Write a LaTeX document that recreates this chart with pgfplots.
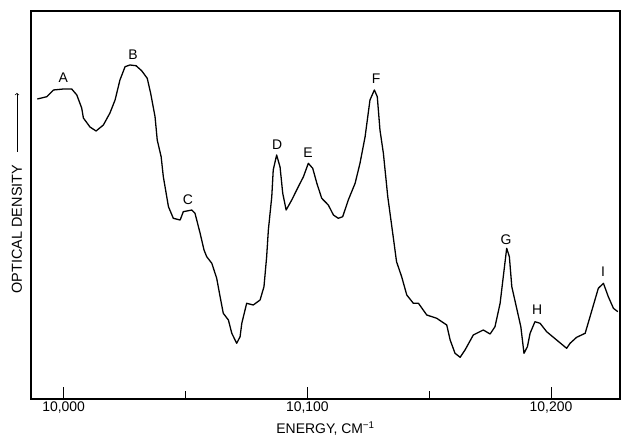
\documentclass[border=0pt]{standalone}
\usepackage{fontspec}
\setmainfont{Liberation Sans}
\usepackage{pgfplots}
\pgfplotsset{compat=1.18}

% absorption trace, y = optical density in arbitrary units
\pgfplotstableread{
E y
9989.2 301
9993.1 303.3
9995.8 310
9999.9 311
10003.3 311
10005.4 305
10007.4 292
10008.1 282
10010.8 273
10013.3 269
10016.3 275
10019.0 287
10021.1 300
10023.1 320
10025.2 333.3
10027.2 335
10029.7 334.3
10032.0 329.3
10034.3 321.7
10035.7 306.7
10037.5 283.3
10038.4 260
10040.0 243.3
10040.9 223.3
10042.3 203.3
10043.0 193.3
10045.0 181.7
10047.8 180
10049.1 188.3
10052.6 190
10053.9 186.7
10056.0 166.7
10057.6 150
10058.7 143.3
10060.8 136.7
10062.8 121.7
10064.2 103.3
10065.5 86.7
10067.6 80
10069.0 66.7
10071.0 56.7
10072.4 63.3
10073.1 76.7
10075.1 96.7
10077.8 95
10080.6 100
10082.2 113.3
10083.3 143.3
10084.0 170
10085.4 203.3
10086.0 230
10087.4 245
10088.8 233
10089.9 206.7
10091.3 190
10093.6 200
10096.3 213.3
10098.4 223.3
10100.4 236.7
10102.2 231.7
10103.9 216.7
10105.9 201.7
10108.6 195
10110.7 185
10112.7 181.7
10114.5 183.3
10116.8 200
10119.6 216.7
10121.6 236.7
10123.7 263.3
10125.7 300
10127.5 310
10128.7 303.3
10129.8 270
10131.2 246.7
10133.0 203.3
10135.3 162
10136.6 138.3
10138.7 123.3
10140.8 105
10143.5 96.7
10145.6 96.7
10149.0 85
10153.1 81.7
10157.2 75
10158.6 60
10160.6 46.7
10162.7 42.7
10164.7 50
10168.1 65
10172.2 70
10175.0 66
10177.0 73.3
10179.1 96.7
10180.4 123.3
10181.8 151.7
10182.9 143.3
10183.9 113.3
10185.9 91.7
10187.6 73.3
10188.9 46.7
10190.3 53.3
10191.4 66.7
10193.4 78.3
10195.5 76.7
10198.2 68.3
10202.3 60
10206.4 51.7
10207.8 56.7
10210.5 62.7
10214.0 66.7
10216.0 83.3
10219.4 111.7
10221.5 116.7
10223.5 103.3
10225.6 91.7
10227.4 88.3
}\spectrum

\begin{document}
\begin{tikzpicture}
\begin{axis}[
  name=ax,
  scale only axis,
  width=589bp, height=388bp,
  xmin=9986.6, xmax=10228.3,
  ymin=1, ymax=389,
  clip=false,
  scaled x ticks=false,
  axis line style={line width=1.4pt},
  xtick={10000,10100,10200},
  xticklabels={{10,000},{10,100},{10,200}},
  minor xtick={10050,10150},
  xtick pos=bottom,
  tick align=inside,
  major tick length=12bp,
  minor tick length=8bp,
  tick style={line width=0.9pt, black},
  ytick=\empty,
  xticklabel style={font=\fontsize{14}{16}\selectfont, yshift=1bp},
  xlabel={ENERGY, CM\textsuperscript{−1}},
  xlabel style={font=\fontsize{14}{16}\selectfont, yshift=-2bp},
]
\addplot[black, line width=1.3pt, line join=round] table[x=E, y=y] {\spectrum};

\begin{scope}[font=\fontsize{14}{16}\selectfont]
\node at (axis cs:9999.8,322) {A};
\node at (axis cs:10028.5,345) {B};
\node at (axis cs:10051.0,200) {C};
\node at (axis cs:10087.6,255) {D};
\node at (axis cs:10100.3,247) {E};
\node at (axis cs:10128.2,321) {F};
\node at (axis cs:10181.5,160) {G};
\node at (axis cs:10194.3,90) {H};
\node at (axis cs:10221.3,128) {I};
\end{scope}

\node[rotate=90, font=\fontsize{14.5}{16}\selectfont] at (axis description cs:-0.0238,0.438) {OPTICAL DENSITY};
\draw[-to, line width=0.7pt] (axis description cs:-0.0238,0.637) -- (axis description cs:-0.0238,0.789);
\end{axis}
\path (ax.south west) ++(-31bp,-35bp) (ax.north east) ++(1bp,11bp);
\end{tikzpicture}
\end{document}
